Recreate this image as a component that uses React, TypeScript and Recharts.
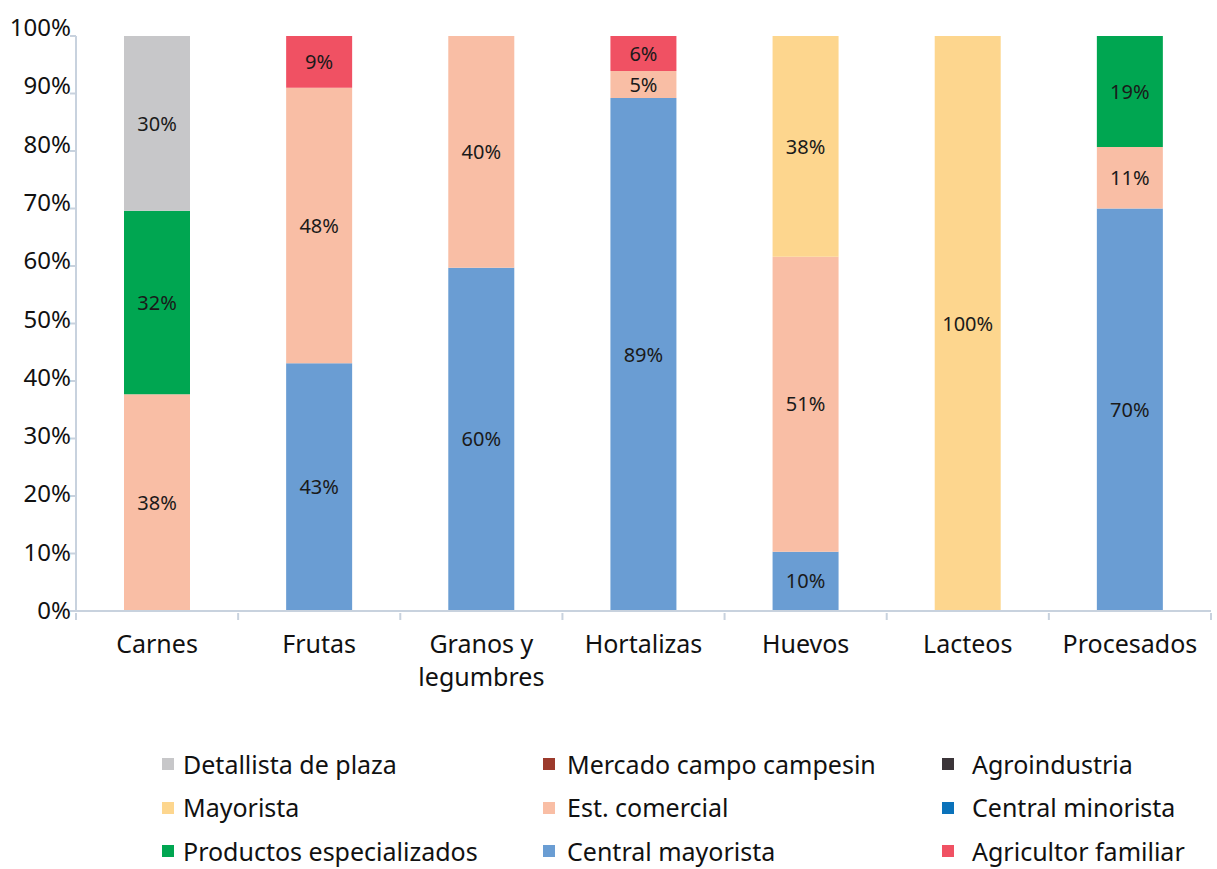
import { BarChart, Bar, XAxis, YAxis, LabelList } from 'recharts'

const categories = ['Carnes', 'Frutas', 'Granos y legumbres', 'Hortalizas', 'Huevos', 'Lacteos', 'Procesados']

// shares per category (%), stacked bottom -> top
const centralMayorista = [null, 43.1, 59.7, 89.2, 10.3, null, 70.0]
const estComercial = [37.7, 47.9, 40.3, 4.7, 51.3, null, 10.7]
const productosEspecializados = [31.9, null, null, null, null, null, 19.3]
const mayorista = [null, null, null, null, 38.4, 100, null]
const detallistaPlaza = [30.4, null, null, null, null, null, null]
const agricultorFamiliar = [null, 9.0, null, 6.1, null, null, null]
const mercadoCampo = [null, null, null, null, null, null, null]
const agroindustria = [null, null, null, null, null, null, null]
const centralMinorista = [null, null, null, null, null, null, null]

const yTicks = [0, 10, 20, 30, 40, 50, 60, 70, 80, 90, 100]

const series = [
  { key: 'centralMayorista', name: 'Central mayorista', color: '#6a9dd3', values: centralMayorista },
  { key: 'estComercial', name: 'Est. comercial', color: '#f9bea5', values: estComercial },
  { key: 'productosEspecializados', name: 'Productos especializados', color: '#00a651', values: productosEspecializados },
  { key: 'mayorista', name: 'Mayorista', color: '#fdd68e', values: mayorista },
  { key: 'detallistaPlaza', name: 'Detallista de plaza', color: '#c7c7c9', values: detallistaPlaza },
  { key: 'agricultorFamiliar', name: 'Agricultor familiar', color: '#f05163', values: agricultorFamiliar },
  { key: 'mercadoCampo', name: 'Mercado campo campesin', color: '#9c3a2c', values: mercadoCampo },
  { key: 'agroindustria', name: 'Agroindustria', color: '#3b3539', values: agroindustria },
  { key: 'centralMinorista', name: 'Central minorista', color: '#0a72ba', values: centralMinorista },
]

// legend is laid out in 3 columns, read row by row
const legendOrder = [
  'detallistaPlaza', 'mercadoCampo', 'agroindustria',
  'mayorista', 'estComercial', 'centralMinorista',
  'productosEspecializados', 'centralMayorista', 'agricultorFamiliar',
]

const data = categories.map((cat, i) => {
  const row: Record<string, any> = { category: cat }
  series.forEach((s) => { row[s.key] = s.values[i] })
  return row
})

const AXIS = '#c8d2de'
const PLOT_LEFT = 76
const PLOT_RIGHT = 1211
const CAT_W = (PLOT_RIGHT - PLOT_LEFT) / categories.length

const fmt = (v: any) => (typeof v === 'number' && v > 0 ? `${Math.round(v)}%` : '')

const CategoryTick = (props: any) => {
  const { x, y, payload, index } = props
  const label: string = payload.value
  const cut = label.lastIndexOf(' ')
  const lines = label.length > 12 ? [label.slice(0, cut), label.slice(cut + 1)] : [label]
  const half = CAT_W / 2
  return (
    <g>
      <line x1={x - half} x2={x - half} y1={y} y2={y + 7} stroke={AXIS} strokeWidth={2} />
      {index === categories.length - 1 && (
        <line x1={x + half} x2={x + half} y1={y} y2={y + 7} stroke={AXIS} strokeWidth={2} />
      )}
      <text x={x} y={y + 40} textAnchor="middle" fontSize={25} fill="#111">
        {lines.map((l, i) => (
          <tspan key={i} x={x} dy={i === 0 ? 0 : 33}>{l}</tspan>
        ))}
      </text>
    </g>
  )
}

const PercentTick = (props: any) => {
  const { x, y, payload } = props
  return (
    <text x={x + 5} y={y + 8 - payload.value * 0.08} textAnchor="end" fontSize={24} fill="#111">
      {`${payload.value}%`}
    </text>
  )
}

const LegendBlock = () => {
  const colLeft = [162, 543, 942]
  const textGap = [21, 24, 30]
  return (
    <div style={{ position: 'absolute', left: 0, top: 0, width: 1217, height: 869, pointerEvents: 'none' }}>
      {legendOrder.map((key, i) => {
        const s = series.find((d) => d.key === key)!
        const col = i % 3
        const row = Math.floor(i / 3)
        return (
          <div
            key={key}
            style={{
              position: 'absolute',
              left: colLeft[col],
              top: 746 + row * 43.5,
              height: 36,
              display: 'flex',
              alignItems: 'center',
              fontSize: 25,
              lineHeight: '25px',
              color: '#111',
              whiteSpace: 'nowrap',
            }}
          >
            <span style={{ width: 12, height: 12, background: s.color, display: 'inline-block', marginRight: textGap[col] - 12 }} />
            <span>{s.name}</span>
          </div>
        )
      })}
    </div>
  )
}

export default function App() {
  return (
    <div style={{ position: 'absolute', left: 0, top: 0, width: 1217, height: 869, background: '#fff', fontFamily: '"Noto Sans", sans-serif' }}>
      <BarChart width={1217} height={869} data={data} margin={{ top: 36, right: 1217 - PLOT_RIGHT, bottom: 178, left: 0 }}>
        <XAxis
          dataKey="category"
          height={80}
          interval={0}
          tickLine={false}
          tickSize={0}
          axisLine={{ stroke: AXIS, strokeWidth: 2 }}
          tick={<CategoryTick />}
        />
        <YAxis
          width={PLOT_LEFT}
          domain={[0, 100]}
          ticks={yTicks}
          interval={0}
          tickSize={6}
          tickMargin={4}
          axisLine={{ stroke: AXIS, strokeWidth: 2 }}
          tickLine={{ stroke: AXIS, strokeWidth: 2 }}
          tick={<PercentTick />}
        />
        {series.map((s) => (
          <Bar key={s.key} dataKey={s.key} name={s.name} stackId="a" fill={s.color} barSize={66} isAnimationActive={false}>
            <LabelList dataKey={s.key} position="center" formatter={fmt} fill="#1a1a1a" fontSize={20} />
          </Bar>
        ))}
      </BarChart>
      <LegendBlock />
    </div>
  )
}
